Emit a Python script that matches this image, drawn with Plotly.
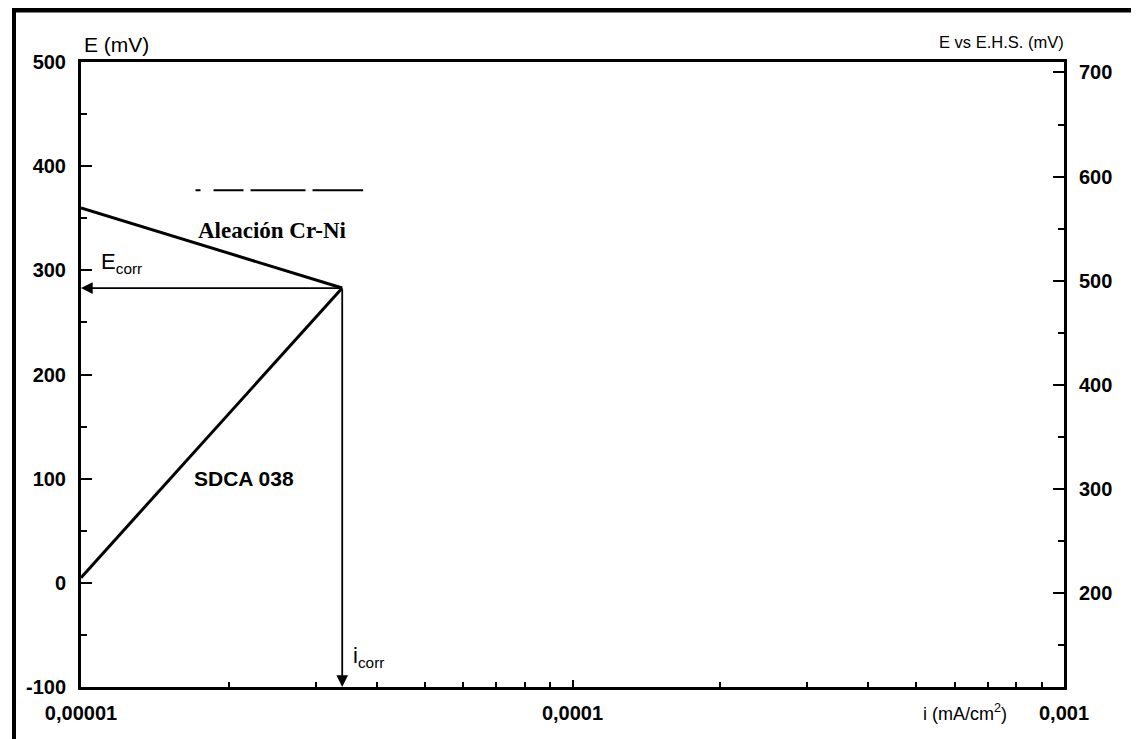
import math
import plotly.graph_objects as go

# ---- data ----
x_major = [1e-5, 1e-4, 1e-3]
x_major_text = ["0,00001", "0,0001", "0,001"]
x_minor = [m * d for d in (1e-5, 1e-4) for m in range(2, 10)]
y_left_major = [-100, 0, 100, 200, 300, 400, 500]
y_left_minor = [-50, 50, 150, 250, 350, 450]
y_right_major = [200, 300, 400, 500, 600, 700]
y_right_minor = [150, 250, 350, 450, 550, 650]
ehs_offset = 210

cr_ni_i = [1e-5, 3.4e-5]
cr_ni_E = [360, 283]
sdca_i = [1e-5, 3.4e-5]
sdca_E = [5, 283]
i_corr = 3.4e-5
E_corr = 283
i_min = 1e-5
E_min = -100
dash_i = [1.71e-5, 3.75e-5]
dash_E = [377, 377]

# page offset (browser body margin)
OFF = 8
W, H = 1139, 739
# plot area in screen pixels
SL, SR, ST, SB = 81, 1064, 62, 687
L, R, T, B = SL - OFF, SR - OFF, ST - OFF, SB - OFF


def px(x):
    return (x - SL) / (SR - SL)


def py(y):
    return (SB - y) / (SB - ST)


fig = go.Figure()
fig.add_trace(go.Scatter(x=cr_ni_i, y=cr_ni_E, mode="lines",
                         line=dict(color="black", width=3), showlegend=False))
fig.add_trace(go.Scatter(x=sdca_i, y=sdca_E, mode="lines",
                         line=dict(color="black", width=3), showlegend=False))
fig.add_trace(go.Scatter(x=dash_i, y=dash_E, mode="lines",
                         line=dict(color="black", width=2,
                                   dash="5px,13px,30px,7px,55px,7px,51px"),
                         showlegend=False))
fig.add_trace(go.Scatter(x=[i_min], y=[E_corr + ehs_offset], yaxis="y2",
                         mode="markers", marker=dict(opacity=0), showlegend=False,
                         hoverinfo="skip"))

yr = [E_min, 500]
xr = [math.log10(i_min), math.log10(1e-3)]

# E_corr arrow (to the left axis) and i_corr arrow (down to the x axis)
fig.add_annotation(x=math.log10(i_min), y=E_corr, ax=math.log10(i_corr), ay=E_corr,
                   xref="x", yref="y", axref="x", ayref="y",
                   showarrow=True, arrowhead=2, arrowsize=1.3, arrowwidth=1.8,
                   arrowcolor="black", text="")
fig.add_annotation(x=math.log10(i_corr), y=E_min, ax=math.log10(i_corr), ay=E_corr,
                   xref="x", yref="y", axref="x", ayref="y",
                   showarrow=True, arrowhead=2, arrowsize=1.3, arrowwidth=1.8,
                   arrowcolor="black", text="")

sans = "Liberation Sans, Arial, sans-serif"
serif = "Liberation Serif, Times New Roman, serif"


def txt(text, x, y, size, xanchor="center", family=sans, weight="normal"):
    fig.add_annotation(x=px(x), y=py(y), xref="paper", yref="paper", text=text,
                       showarrow=False, xanchor=xanchor, yanchor="middle",
                       font=dict(family=family, size=size, color="black",
                                 weight=weight))


txt("E (mV)", 82, 44, 21, "left")
txt("E vs E.H.S. (mV)", 1066, 42, 16.5, "right")
txt("i (mA/cm<sup>2</sup>)", 965, 712, 18)
txt("Aleación Cr-Ni", 272, 231, 23, family=serif, weight="bold")
txt("SDCA 038", 244, 478, 21, weight="bold")
txt("E<sub>corr</sub>", 99, 263, 22, "left")
txt("i<sub>corr</sub>", 351, 657, 22, "left")

# outer frame of the scanned page
fig.add_shape(type="line", xref="paper", yref="paper", x0=px(14), x1=px(14),
              y0=py(8), y1=py(760), line=dict(color="black", width=4))
fig.add_shape(type="line", xref="paper", yref="paper", x0=px(12), x1=px(1160),
              y0=py(10), y1=py(10), line=dict(color="black", width=5))
fig.add_shape(type="line", xref="paper", yref="paper", x0=px(1136), x1=px(1136),
              y0=py(10), y1=py(760), line=dict(color="#bbbbbb", width=1))

tickfont = dict(family=sans, size=20, color="black", weight="bold")
fig.update_layout(
    width=W, height=H,
    margin=dict(l=L, r=W - R, t=T, b=H - B),
    paper_bgcolor="white", plot_bgcolor="white",
    showlegend=False,
    xaxis=dict(type="log", range=xr, tickmode="array", tickvals=x_major,
               ticktext=x_major_text, ticks="inside", ticklen=7, tickwidth=2,
               tickcolor="black", showline=True, linecolor="black", linewidth=3,
               mirror=True, showgrid=False, zeroline=False, tickfont=tickfont,
               ticklabelstandoff=6,
               minor=dict(tickmode="array", tickvals=x_minor, ticks="inside",
                          ticklen=5, tickwidth=2, tickcolor="black", showgrid=False)),
    yaxis=dict(range=yr, tickmode="array", tickvals=y_left_major,
               ticktext=[str(v) for v in y_left_major],
               ticks="inside", ticklen=11, tickwidth=2, tickcolor="black",
               showline=True, linecolor="black", linewidth=3,
               showgrid=False, zeroline=False, tickfont=tickfont,
               ticklabelstandoff=8,
               minor=dict(tickmode="array", tickvals=y_left_minor, ticks="inside",
                          ticklen=6, tickwidth=2, tickcolor="black", showgrid=False)),
    yaxis2=dict(overlaying="y", side="right",
                range=[yr[0] + ehs_offset, yr[1] + ehs_offset],
                tickmode="array", tickvals=y_right_major,
                ticktext=[str(v) for v in y_right_major],
                ticks="inside", ticklen=11, tickwidth=2, tickcolor="black",
                showline=True, linecolor="black", linewidth=3,
                showgrid=False, zeroline=False, tickfont=tickfont,
                ticklabelstandoff=8,
                minor=dict(tickmode="array", tickvals=y_right_minor, ticks="inside",
                           ticklen=6, tickwidth=2, tickcolor="black", showgrid=False)),
)

fig.write_html("out.html")
